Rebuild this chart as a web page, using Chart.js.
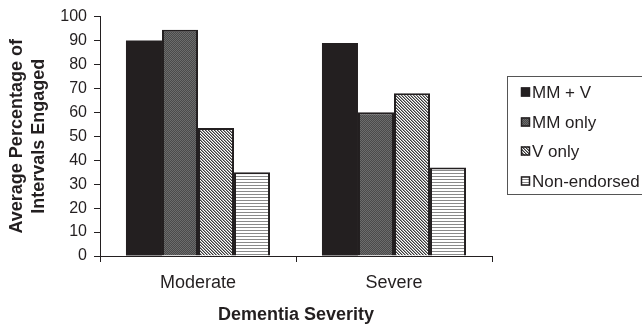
<!DOCTYPE html>
<html>
<head>
<meta charset="utf-8">
<script src="https://cdn.jsdelivr.net/npm/chart.js@4"></script>
<style>
  html, body { margin: 0; padding: 0; background: #fff; }
  #wrap { width: 642px; height: 326px; position: relative; }
</style>
</head>
<body>
<div id="wrap"><canvas id="c" width="642" height="326"></canvas></div>
<script>
// Engagement data by dementia severity
const categories = ['Moderate', 'Severe'];
const seriesNames = ['MM + V', 'MM only', 'V only', 'Non-endorsed'];
const mmPlusV = [90, 89];
const mmOnly = [94.5, 60];
const vOnly = [53.5, 68];
const nonEndorsed = [35, 37];
const yTicks = [0, 10, 20, 30, 40, 50, 60, 70, 80, 90, 100];

const INK = '#231f20';
const FONT = "'Liberation Sans', Arial, sans-serif";

// Fill patterns for the monochrome bars
function makePattern(kind) {
  const t = document.createElement('canvas');
  const g = t.getContext('2d');
  if (kind === 'dots') {
    t.width = 2; t.height = 2;
    g.fillStyle = '#4a4a4a'; g.fillRect(0, 0, 2, 2);
    g.fillStyle = '#6c6c6c'; g.fillRect(0, 0, 1, 1); g.fillRect(1, 1, 1, 1);
  } else if (kind === 'diag') {
    t.width = 3; t.height = 3;
    g.fillStyle = '#ffffff'; g.fillRect(0, 0, 3, 3);
    g.fillStyle = '#3a3a3a';
    for (let i = 0; i < 3; i++) g.fillRect(i, i, 1, 1);
    g.fillStyle = '#9a9a9a';
    for (let i = 0; i < 3; i++) g.fillRect((i + 1) % 3, i, 1, 1);
  } else if (kind === 'hlines') {
    t.width = 3; t.height = 3;
    g.fillStyle = '#ffffff'; g.fillRect(0, 0, 3, 3);
    g.fillStyle = '#8a8a8a'; g.fillRect(0, 2, 3, 1);
  }
  return g.createPattern(t, 'repeat');
}

const fills = [INK, makePattern('dots'), makePattern('diag'), makePattern('hlines')];
const values = [mmPlusV, mmOnly, vOnly, nonEndorsed];

const datasets = seriesNames.map((name, i) => ({
  label: name,
  data: values[i],
  backgroundColor: fills[i],
  borderColor: INK,
  borderWidth: i === 0 ? 0 : 2,
  borderSkipped: 'bottom',
  categoryPercentage: 0.735,
  barPercentage: 1.0
}));

// Boxed legend on the right-hand side
const boxLegend = {
  id: 'boxLegend',
  afterDraw(chart) {
    const ctx = chart.ctx;
    ctx.save();
    ctx.strokeStyle = '#555';
    ctx.lineWidth = 1;
    ctx.strokeRect(507.5, 76.5, 150, 118);
    const rows = [92, 122, 151, 181];
    ctx.font = '17px ' + FONT;
    ctx.textBaseline = 'middle';
    ctx.textAlign = 'left';
    chart.data.datasets.forEach((ds, i) => {
      const y = rows[i];
      ctx.fillStyle = ds.backgroundColor;
      ctx.fillRect(521, y - 4.5, 9, 9);
      ctx.strokeStyle = INK;
      ctx.lineWidth = 1.5;
      ctx.strokeRect(521.5, y - 4, 8, 8);
      ctx.fillStyle = INK;
      ctx.fillText(ds.label, 532, y + 1);
    });
    ctx.restore();
  }
};

new Chart(document.getElementById('c'), {
  type: 'bar',
  data: { labels: categories, datasets },
  options: {
    responsive: false,
    animation: false,
    layout: { padding: { left: 0, right: 150, top: 16, bottom: 0 } },
    plugins: { legend: { display: false }, tooltip: { enabled: false } },
    scales: {
      x: {
        offset: true,
        grid: { display: true, drawOnChartArea: false, offset: true, tickLength: 6, color: INK, lineWidth: 1 },
        border: { display: true, color: INK, width: 1 },
        ticks: { color: INK, font: { family: FONT, size: 18 }, padding: 10 },
        title: {
          display: true, text: 'Dementia Severity', color: INK,
          font: { family: FONT, size: 18, weight: 'bold' },
          padding: { top: 0, bottom: 0 }
        },
        afterFit(s) { s.height = 70; }
      },
      y: {
        min: 0, max: 100,
        afterBuildTicks(s) { s.ticks = yTicks.map(v => ({ value: v })); },
        grid: { display: true, drawOnChartArea: false, tickLength: 6, color: INK, lineWidth: 1 },
        border: { display: true, color: INK, width: 1 },
        ticks: { color: INK, font: { family: FONT, size: 16 }, padding: 7 },
        title: {
          display: true, text: ['Average Percentage of', 'Intervals Engaged'], color: INK,
          font: { family: FONT, size: 18, weight: 'bold', lineHeight: 1.17 },
          padding: { top: 7, bottom: 0 }
        },
        afterFit(s) { s.width = 100; }
      }
    }
  },
  plugins: [boxLegend]
});
</script>
</body>
</html>
